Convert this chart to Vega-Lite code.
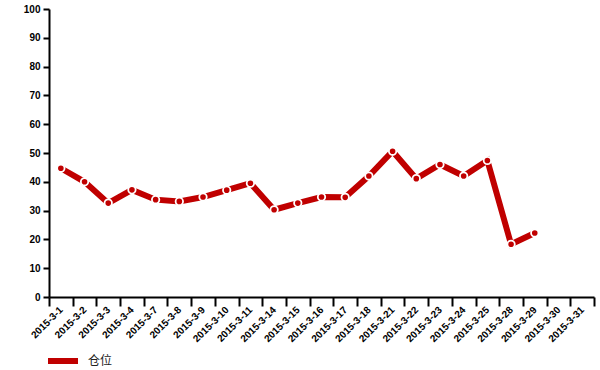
{
  "$schema": "https://vega.github.io/schema/vega-lite/v6.json",
  "autosize": {"type": "none"},
  "width": 545,
  "height": 288,
  "padding": {"left": 49, "top": 9, "right": 6, "bottom": 73},
  "background": "white",
  "data": {"values": [
    {"date": "2015-3-1", "value": 44.7, "series": "仓位"},
    {"date": "2015-3-2", "value": 40.0, "series": "仓位"},
    {"date": "2015-3-3", "value": 32.6, "series": "仓位"},
    {"date": "2015-3-4", "value": 37.2, "series": "仓位"},
    {"date": "2015-3-7", "value": 33.8, "series": "仓位"},
    {"date": "2015-3-8", "value": 33.2, "series": "仓位"},
    {"date": "2015-3-9", "value": 34.7, "series": "仓位"},
    {"date": "2015-3-10", "value": 37.1, "series": "仓位"},
    {"date": "2015-3-11", "value": 39.5, "series": "仓位"},
    {"date": "2015-3-14", "value": 30.3, "series": "仓位"},
    {"date": "2015-3-15", "value": 32.6, "series": "仓位"},
    {"date": "2015-3-16", "value": 34.7, "series": "仓位"},
    {"date": "2015-3-17", "value": 34.6, "series": "仓位"},
    {"date": "2015-3-18", "value": 42.0, "series": "仓位"},
    {"date": "2015-3-21", "value": 50.6, "series": "仓位"},
    {"date": "2015-3-22", "value": 41.1, "series": "仓位"},
    {"date": "2015-3-23", "value": 46.0, "series": "仓位"},
    {"date": "2015-3-24", "value": 42.0, "series": "仓位"},
    {"date": "2015-3-25", "value": 47.4, "series": "仓位"},
    {"date": "2015-3-28", "value": 18.3, "series": "仓位"},
    {"date": "2015-3-29", "value": 22.2, "series": "仓位"},
    {"date": "2015-3-30", "value": null, "series": "仓位"},
    {"date": "2015-3-31", "value": null, "series": "仓位"}
  ]},
  "encoding": {
    "x": {
      "field": "date", "type": "nominal", "sort": null,
      "scale": {"type": "band", "paddingInner": 0, "paddingOuter": 0},
      "axis": {
        "title": null, "labelAngle": -45, "labelAlign": "right", "labelBaseline": "middle",
        "labelFont": "Liberation Sans", "labelFontWeight": "bold", "labelFontSize": 10, "labelColor": "#000",
        "tickBand": "extent", "tickSize": 9, "tickWidth": 2, "tickColor": "#000",
        "domainColor": "#000", "domainWidth": 2, "labelPadding": 2, "grid": false, "labelOverlap": false
      }
    },
    "y": {
      "field": "value", "type": "quantitative",
      "scale": {"domain": [0, 100], "nice": false, "zero": true},
      "axis": {
        "title": null, "values": [0,10,20,30,40,50,60,70,80,90,100],
        "labelFont": "Liberation Sans", "labelFontWeight": "bold", "labelFontSize": 10, "labelColor": "#000",
        "tickSize": 6, "tickWidth": 2, "tickColor": "#000", "domainColor": "#000", "domainWidth": 2,
        "labelPadding": 3, "grid": false, "labelOverlap": false
      }
    },
    "color": {
      "field": "series", "type": "nominal",
      "scale": {"range": ["#C00000"]},
      "legend": {
        "title": null, "orient": "none", "legendX": -4, "legendY": 334,
        "symbolType": "stroke", "symbolStrokeWidth": 6, "symbolSize": 900,
        "labelFont": "Noto Sans CJK SC", "labelFontSize": 12, "labelColor": "#222", "labelOffset": 7
      }
    }
  },
  "layer": [
    {"mark": {"type": "line", "strokeWidth": 6, "strokeJoin": "miter"}},
    {"mark": {"type": "point", "filled": true, "size": 55, "stroke": "white", "strokeWidth": 1.8, "opacity": 1}}
  ],
  "config": {"view": {"stroke": null}}
}
